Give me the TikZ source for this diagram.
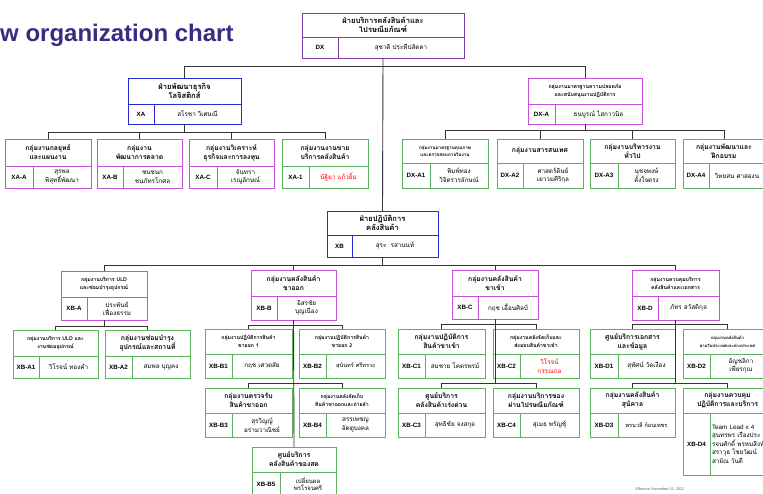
\documentclass[tikz,border=0pt]{standalone}
\usepackage{fontspec}
\setmainfont{Liberation Sans}
\newfontfamily\thaifont[Script=Thai]{Loma}
\usepackage{tikz}
\definecolor{unitviolet}{HTML}{7E3CA8}
\definecolor{unitblue}{HTML}{2A2AD8}
\definecolor{unitpink}{HTML}{C74FDB}
\definecolor{unitgreen}{HTML}{5CB15C}
\definecolor{headline}{HTML}{3B2A82}
\tikzset{
	cell/.style={
		rectangle,
		draw,
		line width=0.9pt,
		inner sep=1pt,
		outer sep=0pt,
		align=center
	},
	title cell/.style={cell, anchor=north west, font=\thaifont\bfseries\fontsize{6.8}{9}\selectfont},
	big title/.style={title cell, font=\thaifont\bfseries\fontsize{7.6}{9.5}\selectfont},
	small title/.style={title cell, font=\thaifont\bfseries\fontsize{5.2}{8}\selectfont},
	code cell/.style={cell, anchor=north west, font=\bfseries\fontsize{6.2}{7}\selectfont},
	name cell/.style={cell, anchor=north west, font=\thaifont\fontsize{6.3}{8.5}\selectfont},
	violet/.style={draw=unitviolet},
	blue/.style={draw=unitblue},
	pink/.style={draw=unitpink},
	green/.style={draw=unitgreen},
	link/.style={line width=0.9pt, draw=black!80}
}

\begin{document}
\begin{tikzpicture}[x=1pt,y=-1pt]
\useasboundingbox (0,0) rectangle (763,493);
\clip (0,0) rectangle (763,493);

\node[anchor=west, text=headline, font=\bfseries\fontsize{24}{26}\selectfont, inner sep=0pt] (heading) at (0,35) {w organization chart};
\node[font=\fontsize{3.8}{4.5}\selectfont, text=black!60] (effective) at (660,489) {Effective November 01, 2022};

% top
\node[big title, violet, minimum width=162, minimum height=24] (DX) at (302,13) {ฝ่ายบริการคลังสินค้าและ\\ไปรษณียภัณฑ์};
\node[code cell, violet, minimum width=36, minimum height=21] (DXcode) at (DX.south west) {DX};
\node[name cell, violet, minimum width=126, minimum height=21] (DXname) at (DXcode.north east) {สุชาติ ประทีปสัตตา};

% business development
\node[big title, blue, minimum width=113, minimum height=26] (XA) at (128,78) {ฝ่ายพัฒนาธุรกิจ\\โลจิสติกส์};
\node[code cell, blue, minimum width=26, minimum height=20] (XAcode) at (XA.south west) {XA};
\node[name cell, blue, minimum width=87, minimum height=20] (XAname) at (XAcode.north east) {สโรชา วิเศษณี};

\node[title cell, pink, minimum width=86, minimum height=27] (XAA) at (5,139) {กลุ่มงานกลยุทธ์\\และแผนงาน};
\node[code cell, pink, minimum width=28, minimum height=22] (XAAcode) at (XAA.south west) {XA-A};
\node[name cell, pink, minimum width=58, minimum height=22] (XAAname) at (XAAcode.north east) {สุรพล\\พิสุทธิ์พัฒนา};

\node[title cell, pink, minimum width=85, minimum height=27] (XAB) at (97,139) {กลุ่มงาน\\พัฒนาการตลาด};
\node[code cell, pink, minimum width=26, minimum height=22] (XABcode) at (XAB.south west) {XA-B};
\node[name cell, pink, minimum width=59, minimum height=22] (XABname) at (XABcode.north east) {ชนชนก\\ชนภัทรโกศล};

\node[title cell, pink, minimum width=85, minimum height=27] (XAC) at (189,139) {กลุ่มงานวิเคราะห์\\ธุรกิจและการลงทุน};
\node[code cell, pink, minimum width=28, minimum height=22] (XACcode) at (XAC.south west) {XA-C};
\node[name cell, pink, minimum width=57, minimum height=22] (XACname) at (XACcode.north east) {จันทรา\\เรณูลักษณ์};

\node[title cell, green, minimum width=86, minimum height=27] (XAone) at (282,139) {กลุ่มงานงานขาย\\บริการคลังสินค้า};
\node[code cell, green, minimum width=27, minimum height=22] (XAonecode) at (XAone.south west) {XA-1};
\node[name cell, green, minimum width=59, minimum height=22, text=red] (XAonename) at (XAonecode.north east) {นัฐิยา แก้วยิ้ม};

% safety and support
\node[small title, pink, minimum width=114, minimum height=26] (DXA) at (528,78) {กลุ่มงานมาตรฐานความปลอดภัย\\และสนับสนุนงานปฏิบัติการ};
\node[code cell, pink, minimum width=27, minimum height=20] (DXAcode) at (DXA.south west) {DX-A};
\node[name cell, pink, minimum width=87, minimum height=20] (DXAname) at (DXAcode.north east) {ธนบูรณ์ ไสกาวนิล};

\node[small title, green, minimum width=86, minimum height=24, font=\thaifont\bfseries\fontsize{4.6}{7.5}\selectfont] (DXAone) at (402,139) {กลุ่มงานมาตรฐานคุณภาพ\\และตรวจสอบภายในงาน};
\node[code cell, green, minimum width=28, minimum height=25] (DXAonecode) at (DXAone.south west) {DX-A1};
\node[name cell, green, minimum width=58, minimum height=25] (DXAonename) at (DXAonecode.north east) {พิมพ์ทอง\\วิจิตรวรลักษณ์};

\node[title cell, green, minimum width=86, minimum height=24] (DXAtwo) at (497,139) {กลุ่มงานสารสนเทศ};
\node[code cell, green, minimum width=26, minimum height=25] (DXAtwocode) at (DXAtwo.south west) {DX-A2};
\node[name cell, green, minimum width=60, minimum height=25] (DXAtwoname) at (DXAtwocode.north east) {ศาสตร์ดิษย์\\เยาวมศิริกุล};

\node[title cell, green, minimum width=85, minimum height=24] (DXAthree) at (590,139) {กลุ่มงานบริหารงาน\\ทั่วไป};
\node[code cell, green, minimum width=28, minimum height=25] (DXAthreecode) at (DXAthree.south west) {DX-A3};
\node[name cell, green, minimum width=57, minimum height=25] (DXAthreename) at (DXAthreecode.north east) {นุชจพงษ์\\ตั้งใจตรง};

\node[title cell, green, minimum width=82, minimum height=24] (DXAfour) at (683,139) {กลุ่มงานพัฒนาและ\\ฝึกอบรม};
\node[code cell, green, minimum width=26, minimum height=25] (DXAfourcode) at (DXAfour.south west) {DX-A4};
\node[name cell, green, minimum width=56, minimum height=25] (DXAfourname) at (DXAfourcode.north east) {วิทยสน ศาสองน};

% warehouse operations
\node[big title, blue, minimum width=111, minimum height=24] (XB) at (327,211) {ฝ่ายปฏิบัติการ\\คลังสินค้า};
\node[code cell, blue, minimum width=25, minimum height=22] (XBcode) at (XB.south west) {XB};
\node[name cell, blue, minimum width=86, minimum height=22] (XBname) at (XBcode.north east) {สุระ\ \ รสานนท์};

\node[small title, pink, minimum width=86, minimum height=26] (XBA) at (61,271) {กลุ่มงานบริการ ULD\\และซ่อมบำรุงอุปกรณ์};
\node[code cell, pink, minimum width=26, minimum height=23] (XBAcode) at (XBA.south west) {XB-A};
\node[name cell, pink, minimum width=60, minimum height=23] (XBAname) at (XBAcode.north east) {ประพันธ์\\เฟื่องธรรม};

\node[small title, green, minimum width=85, minimum height=26] (XBAone) at (13,330) {กลุ่มงานบริการ ULD และ\\งานซ่อมอุปกรณ์};
\node[code cell, green, minimum width=26, minimum height=22] (XBAonecode) at (XBAone.south west) {XB-A1};
\node[name cell, green, minimum width=59, minimum height=22] (XBAonename) at (XBAonecode.north east) {วิโรจน์ ทองคำ};

\node[title cell, green, minimum width=85, minimum height=26] (XBAtwo) at (105,330) {กลุ่มงานซ่อมบำรุง\\อุปกรณ์และสถานที่};
\node[code cell, green, minimum width=27, minimum height=22] (XBAtwocode) at (XBAtwo.south west) {XB-A2};
\node[name cell, green, minimum width=58, minimum height=22] (XBAtwoname) at (XBAtwocode.north east) {สมพล บุญคง};

\node[title cell, pink, minimum width=85, minimum height=26] (XBB) at (251,270) {กลุ่มงานคลังสินค้า\\ขาออก};
\node[code cell, pink, minimum width=26, minimum height=24] (XBBcode) at (XBB.south west) {XB-B};
\node[name cell, pink, minimum width=59, minimum height=24] (XBBname) at (XBBcode.north east) {อิสรชัย\\บุญเนือง};

\node[small title, green, minimum width=87, minimum height=25] (XBBone) at (205,329) {กลุ่มงานปฏิบัติการสินค้า\\ขาออก 1};
\node[code cell, green, minimum width=27, minimum height=24] (XBBonecode) at (XBBone.south west) {XB-B1};
\node[name cell, green, minimum width=60, minimum height=24] (XBBonename) at (XBBonecode.north east) {กฤช เศวตสัย};

\node[small title, green, minimum width=86, minimum height=25] (XBBtwo) at (299,329) {กลุ่มงานปฏิบัติการสินค้า\\ขาออก 2};
\node[code cell, green, minimum width=27, minimum height=24] (XBBtwocode) at (XBBtwo.south west) {XB-B2};
\node[name cell, green, minimum width=59, minimum height=24, font=\thaifont\fontsize{5.6}{8}\selectfont] (XBBtwoname) at (XBBtwocode.north east) {สุนันทร์ ศรีทรวง};

\node[title cell, green, minimum width=87, minimum height=25] (XBBthree) at (205,388) {กลุ่มงานตรวจรับ\\สินค้าขาออก};
\node[code cell, green, minimum width=27, minimum height=24] (XBBthreecode) at (XBBthree.south west) {XB-B3};
\node[name cell, green, minimum width=60, minimum height=24] (XBBthreename) at (XBBthreecode.north east) {สุรวิญญ์\\อร่ามวาณิชย์};

\node[small title, green, minimum width=86, minimum height=25] (XBBfour) at (299,388) {กลุ่มงานคลังจัดเก็บ\\สินค้าขาออกและถ่ายลำ};
\node[code cell, green, minimum width=27, minimum height=24] (XBBfourcode) at (XBBfour.south west) {XB-B4};
\node[name cell, green, minimum width=59, minimum height=24] (XBBfourname) at (XBBfourcode.north east) {สรรเพชญ\\อัตตูบงคล};

\node[title cell, green, minimum width=84, minimum height=25] (XBBfive) at (252,447) {ศูนย์บริการ\\คลังสินค้าของสด};
\node[code cell, green, minimum width=28, minimum height=24] (XBBfivecode) at (XBBfive.south west) {XB-B5};
\node[name cell, green, minimum width=56, minimum height=24, font=\thaifont\fontsize{6}{7.5}\selectfont] (XBBfivename) at (XBBfivecode.north east) {เปลี่ยนผล\\พรโรจนศรี};

\node[title cell, pink, minimum width=86, minimum height=26] (XBC) at (452,270) {กลุ่มงานคลังสินค้า\\ขาเข้า};
\node[code cell, pink, minimum width=26, minimum height=23] (XBCcode) at (XBC.south west) {XB-C};
\node[name cell, pink, minimum width=60, minimum height=23] (XBCname) at (XBCcode.north east) {กฤช เอื้อนศิลป์};

\node[title cell, green, minimum width=87, minimum height=25] (XBCone) at (398,329) {กลุ่มงานปฏิบัติการ\\สินค้าขาเข้า};
\node[code cell, green, minimum width=27, minimum height=24] (XBConecode) at (XBCone.south west) {XB-C1};
\node[name cell, green, minimum width=60, minimum height=24] (XBConename) at (XBConecode.north east) {สมชาย โคตรพรม์};

\node[small title, green, minimum width=86, minimum height=25] (XBCtwo) at (493,329) {กลุ่มงานคลังจัดเก็บและ\\ส่งมอบสินค้าขาเข้า};
\node[code cell, green, minimum width=27, minimum height=24] (XBCtwocode) at (XBCtwo.south west) {XB-C2};
\node[name cell, green, minimum width=59, minimum height=24, text=red] (XBCtwoname) at (XBCtwocode.north east) {วิโรจน์\\กรรณกล};

\node[title cell, green, minimum width=87, minimum height=25] (XBCthree) at (398,388) {ศูนย์บริการ\\คลังสินค้าเร่งด่วน};
\node[code cell, green, minimum width=27, minimum height=24] (XBCthreecode) at (XBCthree.south west) {XB-C3};
\node[name cell, green, minimum width=60, minimum height=24] (XBCthreename) at (XBCthreecode.north east) {สุทธิชัย จงสกุล};

\node[title cell, green, minimum width=86, minimum height=25] (XBCfour) at (493,388) {กลุ่มงานบริการของ\\ผ่านไปรษณียภัณฑ์};
\node[code cell, green, minimum width=27, minimum height=24] (XBCfourcode) at (XBCfour.south west) {XB-C4};
\node[name cell, green, minimum width=59, minimum height=24] (XBCfourname) at (XBCfourcode.north east) {สุเมธ พรัญชุ์};

\node[small title, pink, minimum width=87, minimum height=26] (XBD) at (632,270) {กลุ่มงานควบคุมบริการ\\คลังสินค้าและเอกสาร};
\node[code cell, pink, minimum width=26, minimum height=24] (XBDcode) at (XBD.south west) {XB-D};
\node[name cell, pink, minimum width=61, minimum height=24] (XBDname) at (XBDcode.north east) {ภัทร สวัสดิกุล};

\node[title cell, green, minimum width=85, minimum height=25] (XBDone) at (590,329) {ศูนย์บริการเอกสาร\\และข้อมูล};
\node[code cell, green, minimum width=28, minimum height=24] (XBDonecode) at (XBDone.south west) {XB-D1};
\node[name cell, green, minimum width=57, minimum height=24] (XBDonename) at (XBDonecode.north east) {สุทัศน์ วัดเงือง};

\node[small title, green, minimum width=89, minimum height=25, font=\thaifont\bfseries\fontsize{4.2}{7.5}\selectfont] (XBDtwo) at (683,329) {กลุ่มงานคลังสินค้า\\ผ่านในประเทศและต่างประเทศ};
\node[code cell, green, minimum width=27, minimum height=24] (XBDtwocode) at (XBDtwo.south west) {XB-D2};
\node[name cell, green, minimum width=62, minimum height=24] (XBDtwoname) at (XBDtwocode.north east) {อัญชลิกา\\เพียรกุณ};

\node[title cell, green, minimum width=85, minimum height=25] (XBDthree) at (590,388) {กลุ่มงานคลังสินค้า\\สุนัคาล};
\node[code cell, green, minimum width=28, minimum height=24] (XBDthreecode) at (XBDthree.south west) {XB-D3};
\node[name cell, green, minimum width=57, minimum height=24, font=\thaifont\fontsize{5.6}{8}\selectfont] (XBDthreename) at (XBDthreecode.north east) {พรนวลี ก้อนเพชร};

\node[title cell, green, minimum width=89, minimum height=25] (XBDfour) at (683,388) {กลุ่มงานควบคุม\\ปฏิบัติการและบริการ};
\node[code cell, green, minimum width=27, minimum height=62] (XBDfourcode) at (XBDfour.south west) {XB-D4};
\node[name cell, green, minimum width=62, minimum height=62, align=left, text width=58] (XBDfourname) at (XBDfourcode.north east) {{\fontspec{Liberation Sans}Team Lead x 4}\\สุนทรพร เรืองประ\\รจนศักดิ์ พรหมสิงห์\\สราวุธ ไชยวัฒน์\\สายัณ วันดี};

% links
\draw[link] (DX.south |- DXname.south) -- (XB.north);
\draw[link] (XA.north) -- ++(0,-12) -| (DXA.north);
\draw[link] (XA.south |- XAname.south) -- ++(0,8);
\draw[link] (XAA.north) -- ++(0,-7) -| (XAone.north);
\draw[link] (XAB.north) -- ++(0,-7);
\draw[link] (XAC.north) -- ++(0,-7);
\draw[link] (DXA.south |- DXAname.south) -- ++(0,6);
\draw[link] (DXAone.north) -- ++(0,-9) -| (DXAfour.north);
\draw[link] (DXAtwo.north) -- ++(0,-9);
\draw[link] (DXAthree.north) -- ++(0,-9);
\draw[link] (XB.south |- XBname.south) -- ++(0,8);
\draw[link] (XBA.north) -- ++(0,-6) -| (XBD.north);
\draw[link] (XBB.north) -- ++(0,-5);
\draw[link] (XBC.north) -- ++(0,-5);
\draw[link] (XBA.south |- XBAname.south) -- ++(0,6);
\draw[link] (XBAone.north) -- ++(0,-4) -| (XBAtwo.north);
\draw[link] (XBB.south |- XBBname.south) -- (XBBfive.north);
\draw[link] (XBBone.north) -- ++(0,-4) -| (XBBtwo.north);
\draw[link] (XBBthree.north) -- ++(0,-5) -| (XBBfour.north);
\draw[link] (XBC.south |- XBCname.south) -- ++(0,64);
\draw[link] (XBCone.north) -- ++(0,-5) -| (XBCtwo.north);
\draw[link] (XBCthree.north) -- ++(0,-5) -| (XBCfour.north);
\draw[link] (XBD.south |- XBDname.south) -- ++(0,63);
\draw[link] (XBDone.north) -- ++(0,-5) -| (XBDtwo.north);
\draw[link] (XBDthree.north) -- ++(0,-5) -| (XBDfour.north);
\end{tikzpicture}
\end{document}
